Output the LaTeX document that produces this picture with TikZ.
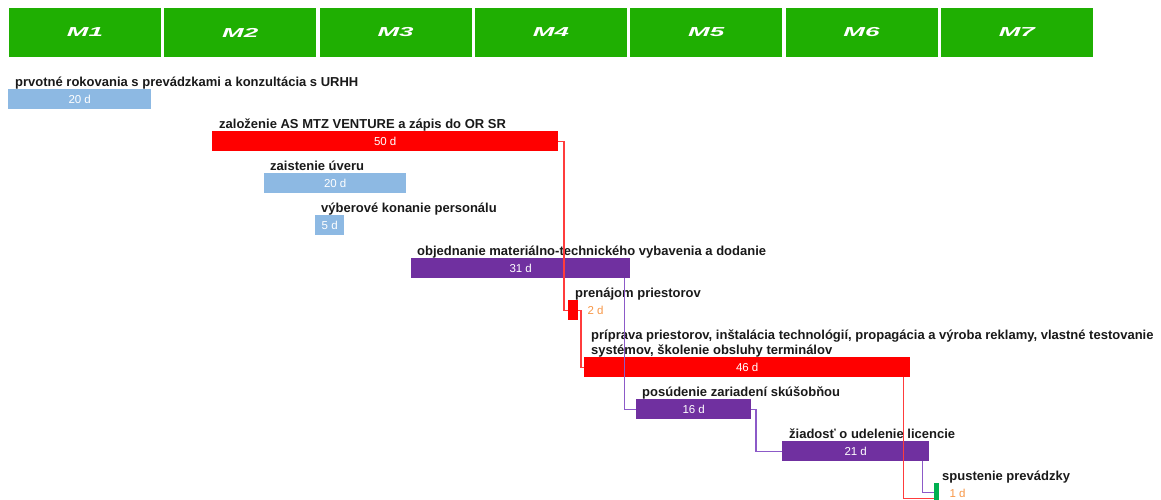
\documentclass[tikz,border=0pt]{standalone}
\usepackage{fontspec}
\setmainfont{Liberation Sans}
\usetikzlibrary{positioning}
\definecolor{hdrgreen}{RGB}{31,175,2}
\definecolor{taskblue}{RGB}{141,185,227}
\definecolor{taskred}{RGB}{255,0,0}
\definecolor{taskpurple}{RGB}{112,48,160}
\definecolor{startgreen}{RGB}{0,176,80}
\definecolor{durorange}{RGB}{247,150,70}
\definecolor{linkred}{RGB}{255,60,60}
\definecolor{linkpurple}{RGB}{140,90,200}
\tikzset{
  month/.style={fill=hdrgreen, draw=white, line width=1pt, minimum width=153pt, minimum height=50pt, inner sep=0pt, anchor=north west, text=white, font=\fontsize{13}{15}\selectfont\bfseries\itshape},
  bar/.style={minimum height=20pt, inner sep=0pt, anchor=north west, text=white, font=\fontsize{11.5}{13}\selectfont},
  tasklabel/.style={inner sep=0pt, anchor=base west, text=black!90, font=\fontsize{13}{15}\selectfont\bfseries},
  durout/.style={inner sep=0pt, text=durorange, font=\fontsize{11.5}{13}\selectfont},
  redlink/.style={draw=linkred, line width=1.4pt},
  purplelink/.style={draw=linkpurple, line width=1.4pt}
}
\begin{document}
\begin{tikzpicture}[x=1pt,y=-1pt]
\useasboundingbox (0,0) rectangle (1161,499);
\node[month] (m1) at (8,7) {\raisebox{-3pt}{\scalebox{2}[1]{M1}}};
\node[month] (m2) at (163.3,7) {\raisebox{-3pt}{\scalebox{2}[1]{M2}}};
\node[month] (m3) at (318.6,7) {\raisebox{-3pt}{\scalebox{2}[1]{M3}}};
\node[month] (m4) at (473.9,7) {\raisebox{-3pt}{\scalebox{2}[1]{M4}}};
\node[month] (m5) at (629.2,7) {\raisebox{-3pt}{\scalebox{2}[1]{M5}}};
\node[month] (m6) at (784.5,7) {\raisebox{-3pt}{\scalebox{2}[1]{M6}}};
\node[month] (m7) at (939.8,7) {\raisebox{-3pt}{\scalebox{2}[1]{M7}}};

\node[bar, fill=taskblue, minimum width=143pt] (b1) at (8,89) {20 d};
\node[bar, fill=taskred, minimum width=346pt] (b2) at (212,131) {50 d};
\node[bar, fill=taskblue, minimum width=142pt] (b3) at (264,173) {20 d};
\node[bar, fill=taskblue, minimum width=29pt] (b4) at (315,215) {5 d};
\node[bar, fill=taskpurple, minimum width=219pt] (b5) at (411,258) {31 d};
\node[bar, fill=taskred, minimum width=10pt] (b6) at (568,300) {};
\node[bar, fill=taskred, minimum width=326pt] (b7) at (584,357) {46 d};
\node[bar, fill=taskpurple, minimum width=115pt] (b8) at (636,399) {16 d};
\node[bar, fill=taskpurple, minimum width=147pt] (b9) at (782,441) {21 d};
\node[bar, fill=startgreen, minimum width=5pt] (b10) at (934,483) {};

\node[tasklabel] (t1) at ([xshift=7pt,yshift=3pt]b1.north west) {prvotné rokovania s prevádzkami a konzultácia s URHH};
\node[tasklabel] (t2) at ([xshift=7pt,yshift=3pt]b2.north west) {založenie AS MTZ VENTURE a zápis do OR SR};
\node[tasklabel] (t3) at ([xshift=6pt,yshift=3pt]b3.north west) {zaistenie úveru};
\node[tasklabel] (t4) at ([xshift=6pt,yshift=3pt]b4.north west) {výberové konanie personálu};
\node[tasklabel] (t5) at ([xshift=6pt,yshift=3pt]b5.north west) {objednanie materiálno-technického vybavenia a dodanie};
\node[tasklabel] (t6) at ([xshift=7pt,yshift=3pt]b6.north west) {prenájom priestorov};
\node[tasklabel, align=left] (t7) at ([xshift=7pt,yshift=3pt]b7.north west) {príprava priestorov, inštalácia technológií, propagácia a výroba reklamy, vlastné testovanie\\systémov, školenie obsluhy terminálov};
\node[tasklabel] (t8) at ([xshift=6pt,yshift=3pt]b8.north west) {posúdenie zariadení skúšobňou};
\node[tasklabel] (t9) at ([xshift=7pt,yshift=3pt]b9.north west) {žiadosť o udelenie licencie};
\node[tasklabel] (t10) at ([xshift=8pt,yshift=3pt]b10.north west) {spustenie prevádzky};

\node[durout, right=9pt of b6] (d6) {2 d};
\node[durout, right=10pt of b10] (d10) {1 d};

\draw[redlink] (b2.east) -| ([xshift=-4pt]b6.west) -- (b6.west);
\draw[redlink] (b6.east) -| ([xshift=-3pt]b7.west) -- (b7.west);
\draw[purplelink] ([xshift=-6pt]b5.south east) |- (b8.west);
\draw[purplelink] (b8.east) -| ([xshift=-26pt]b9.west) -- (b9.west);
\draw[purplelink] ([xshift=-7pt]b9.south east) |- ([yshift=1pt]b10.west);
\draw[redlink] ([xshift=-7pt]b7.south east) |- ([yshift=-5pt]b10.west);
\end{tikzpicture}
\end{document}
